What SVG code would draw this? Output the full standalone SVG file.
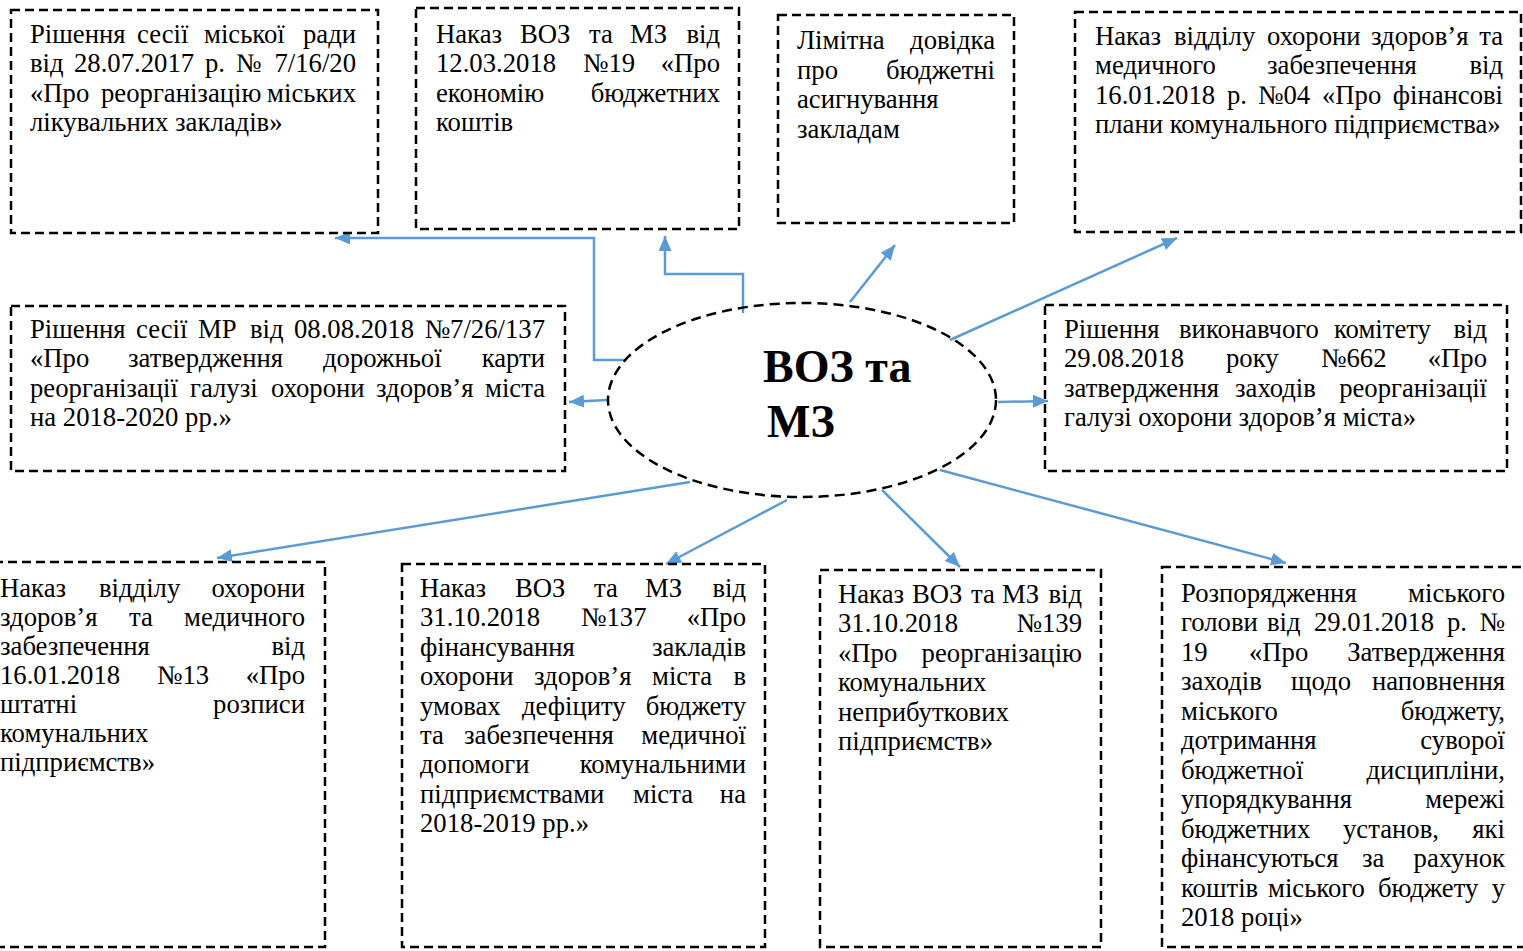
<svg xmlns="http://www.w3.org/2000/svg" width="1523" height="951" viewBox="0 0 1523 951">
<style>
.box{fill:none;stroke:#000;stroke-width:2.5;stroke-dasharray:9 5}
.ell{fill:none;stroke:#000;stroke-width:2.5;stroke-dasharray:10 6}
.t{font-family:"Liberation Serif","Times New Roman",serif;font-size:26.7px;fill:#000}
.e{text-anchor:end}
.b{font-family:"Liberation Serif","Times New Roman",serif;font-size:46px;font-weight:bold;fill:#000}
.conn{fill:none;stroke:#5B9BD5;stroke-width:2.5;marker-end:url(#ah)}
</style>
<defs>
<marker id="ah" markerUnits="userSpaceOnUse" markerWidth="16" markerHeight="14" refX="15" refY="6.5" orient="auto">
<path d="M0,0 L15,6.5 L0,13 Z" fill="#5B9BD5"/>
</marker>
</defs>
<rect width="1523" height="951" fill="#fff"/>

<g id="connectors">
<polyline class="conn" points="625,360 594,360 594,238 335,238"/>
<polyline class="conn" points="743,313 743,274 665,274 665,236"/>
<line class="conn" x1="850" y1="302" x2="895" y2="245"/>
<line class="conn" x1="950" y1="340" x2="1177" y2="238"/>
<line class="conn" x1="607" y1="400" x2="569" y2="402"/>
<line class="conn" x1="998" y1="402" x2="1048" y2="401"/>
<line class="conn" x1="690" y1="482" x2="217" y2="558"/>
<line class="conn" x1="787" y1="500" x2="666" y2="564"/>
<line class="conn" x1="882" y1="490" x2="960" y2="567"/>
<line class="conn" x1="940" y1="470" x2="1286" y2="563"/>
</g>

<g id="center">
<ellipse class="ell" cx="802" cy="400" rx="194" ry="97"/>
<text class="b" x="763" y="382">ВОЗ та</text>
<text class="b" x="767" y="437">МЗ</text>
</g>

<g id="box1">
<rect class="box" x="11" y="10" width="367" height="223"/>
<text class="t" y="43"><tspan x="30">Рішення</tspan><tspan x="137">сесії</tspan><tspan x="204">міської</tspan></text><text class="t e" x="356" y="43">ради</text>
<text class="t" y="72"><tspan x="30">від</tspan><tspan x="74">28.07.2017</tspan><tspan x="205">р.</tspan><tspan x="236">№</tspan></text><text class="t e" x="356" y="72">7/16/20</text>
<text class="t" y="102"><tspan x="30">«Про</tspan><tspan x="101">реорганізацію</tspan></text><text class="t e" x="356" y="102">міських</text>
<text class="t" x="30" y="131">лікувальних закладів»</text>
</g>

<g id="box2">
<rect class="box" x="416" y="8" width="323" height="221"/>
<text class="t" y="43"><tspan x="436">Наказ</tspan><tspan x="520">ВОЗ</tspan><tspan x="589">та</tspan><tspan x="630">МЗ</tspan></text><text class="t e" x="720" y="43">від</text>
<text class="t" y="72"><tspan x="436">12.03.2018</tspan><tspan x="583">№19</tspan></text><text class="t e" x="720" y="72">«Про</text>
<text class="t" x="436" y="102">економію</text><text class="t e" x="720" y="102">бюджетних</text>
<text class="t" x="436" y="131">коштів</text>
</g>

<g id="box3">
<rect class="box" x="778" y="15" width="236" height="208"/>
<text class="t" x="797" y="49">Лімітна</text><text class="t e" x="995" y="49">довідка</text>
<text class="t" x="797" y="79">про</text><text class="t e" x="995" y="79">бюджетні</text>
<text class="t" x="797" y="108">асигнування</text>
<text class="t" x="797" y="138">закладам</text>
</g>

<g id="box4">
<rect class="box" x="1075" y="12" width="446" height="220"/>
<text class="t" y="45"><tspan x="1095">Наказ</tspan><tspan x="1174">відділу</tspan><tspan x="1267">охорони</tspan><tspan x="1371">здоров’я</tspan></text><text class="t e" x="1503" y="45">та</text>
<text class="t" y="74"><tspan x="1095">медичного</tspan><tspan x="1267">забезпечення</tspan></text><text class="t e" x="1503" y="74">від</text>
<text class="t" y="104"><tspan x="1095">16.01.2018</tspan><tspan x="1227">р.</tspan><tspan x="1258">№04</tspan><tspan x="1322">«Про</tspan></text><text class="t e" x="1503" y="104">фінансові</text>
<text class="t" x="1095" y="133">плани комунального підприємства»</text>
</g>

<g id="box5">
<rect class="box" x="11" y="306" width="554" height="165"/>
<text class="t" y="338"><tspan x="30">Рішення</tspan><tspan x="136">сесії</tspan><tspan x="198">МР</tspan><tspan x="250">від</tspan><tspan x="294">08.08.2018</tspan></text><text class="t e" x="545" y="338">№7/26/137</text>
<text class="t" y="367"><tspan x="30">«Про</tspan><tspan x="128">затвердження</tspan><tspan x="323">дорожньої</tspan></text><text class="t e" x="545" y="367">карти</text>
<text class="t" y="397"><tspan x="30">реорганізації</tspan><tspan x="190">галузі</tspan><tspan x="271">охорони</tspan><tspan x="376">здоров’я</tspan></text><text class="t e" x="545" y="397">міста</text>
<text class="t" x="30" y="426">на 2018-2020 рр.»</text>
</g>

<g id="box6">
<rect class="box" x="1045" y="305" width="462" height="166"/>
<text class="t" y="338"><tspan x="1064">Рішення</tspan><tspan x="1179">виконавчого</tspan><tspan x="1334">комітету</tspan></text><text class="t e" x="1487" y="338">від</text>
<text class="t" y="367"><tspan x="1064">29.08.2018</tspan><tspan x="1226">року</tspan><tspan x="1321">№662</tspan></text><text class="t e" x="1487" y="367">«Про</text>
<text class="t" y="397"><tspan x="1064">затвердження</tspan><tspan x="1235">заходів</tspan></text><text class="t e" x="1487" y="397">реорганізації</text>
<text class="t" x="1064" y="426">галузі охорони здоров’я міста»</text>
</g>

<g id="box7">
<rect class="box" x="-20" y="562" width="345" height="385"/>
<text class="t" y="597"><tspan x="0">Наказ</tspan><tspan x="99">відділу</tspan></text><text class="t e" x="305" y="597">охорони</text>
<text class="t" y="626"><tspan x="0">здоров’я</tspan><tspan x="129">та</tspan></text><text class="t e" x="305" y="626">медичного</text>
<text class="t" x="0" y="655">забезпечення</text><text class="t e" x="305" y="655">від</text>
<text class="t" y="684"><tspan x="0">16.01.2018</tspan><tspan x="157">№13</tspan></text><text class="t e" x="305" y="684">«Про</text>
<text class="t" x="0" y="713">штатні</text><text class="t e" x="305" y="713">розписи</text>
<text class="t" x="0" y="742">комунальних</text>
<text class="t" x="0" y="771">підприємств»</text>
</g>

<g id="box8">
<rect class="box" x="402" y="564" width="363" height="383"/>
<text class="t" y="597"><tspan x="420">Наказ</tspan><tspan x="515">ВОЗ</tspan><tspan x="594">та</tspan><tspan x="645">МЗ</tspan></text><text class="t e" x="746" y="597">від</text>
<text class="t" y="626"><tspan x="420">31.10.2018</tspan><tspan x="581">№137</tspan></text><text class="t e" x="746" y="626">«Про</text>
<text class="t" x="420" y="656">фінансування</text><text class="t e" x="746" y="656">закладів</text>
<text class="t" y="685"><tspan x="420">охорони</tspan><tspan x="534">здоров’я</tspan><tspan x="652">міста</tspan></text><text class="t e" x="746" y="685">в</text>
<text class="t" y="715"><tspan x="420">умовах</tspan><tspan x="522">дефіциту</tspan></text><text class="t e" x="746" y="715">бюджету</text>
<text class="t" y="744"><tspan x="420">та</tspan><tspan x="464">забезпечення</tspan></text><text class="t e" x="746" y="744">медичної</text>
<text class="t" x="420" y="773">допомоги</text><text class="t e" x="746" y="773">комунальними</text>
<text class="t" y="803"><tspan x="420">підприємствами</tspan><tspan x="633">міста</tspan></text><text class="t e" x="746" y="803">на</text>
<text class="t" x="420" y="832">2018-2019 рр.»</text>
</g>

<g id="box9">
<rect class="box" x="820" y="570" width="281" height="377"/>
<text class="t" y="603"><tspan x="838">Наказ</tspan><tspan x="912">ВОЗ</tspan><tspan x="971">та</tspan><tspan x="1002">МЗ</tspan></text><text class="t e" x="1082" y="603">від</text>
<text class="t" x="838" y="632">31.10.2018</text><text class="t e" x="1082" y="632">№139</text>
<text class="t" x="838" y="662">«Про</text><text class="t e" x="1082" y="662">реорганізацію</text>
<text class="t" x="838" y="691">комунальних</text>
<text class="t" x="838" y="721">неприбуткових</text>
<text class="t" x="838" y="750">підприємств»</text>
</g>

<g id="box10">
<rect class="box" x="1162" y="567" width="370" height="380"/>
<text class="t" x="1181" y="602">Розпорядження</text><text class="t e" x="1505" y="602">міського</text>
<text class="t" y="631"><tspan x="1181">голови</tspan><tspan x="1267">від</tspan><tspan x="1314">29.01.2018</tspan><tspan x="1447">р.</tspan></text><text class="t e" x="1505" y="631">№</text>
<text class="t" y="661"><tspan x="1181">19</tspan><tspan x="1249">«Про</tspan></text><text class="t e" x="1505" y="661">Затвердження</text>
<text class="t" y="690"><tspan x="1181">заходів</tspan><tspan x="1291">щодо</tspan></text><text class="t e" x="1505" y="690">наповнення</text>
<text class="t" x="1181" y="720">міського</text><text class="t e" x="1505" y="720">бюджету,</text>
<text class="t" x="1181" y="749">дотримання</text><text class="t e" x="1505" y="749">суворої</text>
<text class="t" x="1181" y="779">бюджетної</text><text class="t e" x="1505" y="779">дисципліни,</text>
<text class="t" x="1181" y="808">упорядкування</text><text class="t e" x="1505" y="808">мережі</text>
<text class="t" y="838"><tspan x="1181">бюджетних</tspan><tspan x="1343">установ,</tspan></text><text class="t e" x="1505" y="838">які</text>
<text class="t" y="867"><tspan x="1181">фінансуються</tspan><tspan x="1362">за</tspan></text><text class="t e" x="1505" y="867">рахунок</text>
<text class="t" y="897"><tspan x="1181">коштів</tspan><tspan x="1268">міського</tspan><tspan x="1378">бюджету</tspan></text><text class="t e" x="1505" y="897">у</text>
<text class="t" x="1181" y="926">2018 році»</text>
</g>
</svg>
